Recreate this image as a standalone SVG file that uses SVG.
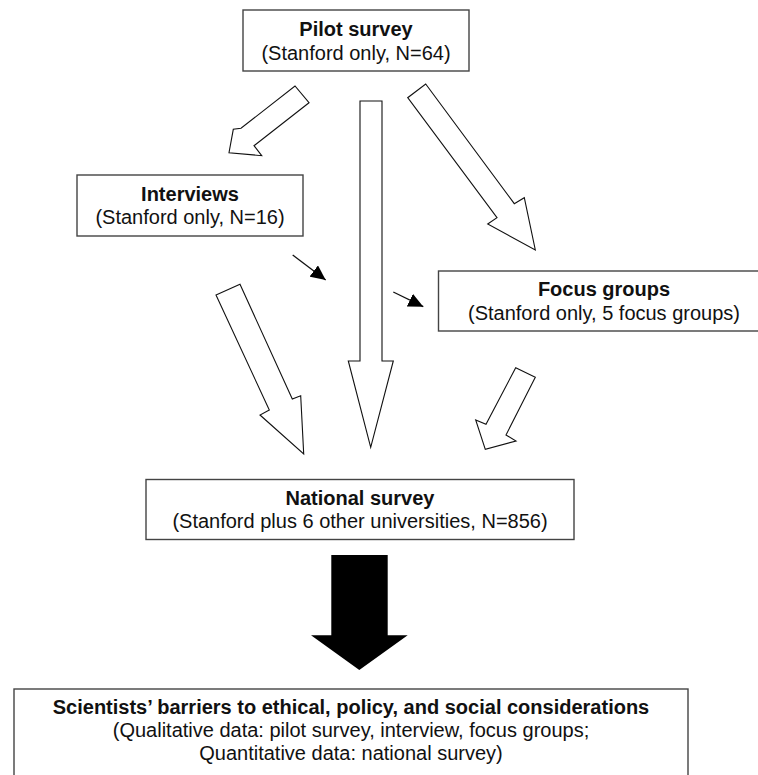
<svg xmlns="http://www.w3.org/2000/svg" width="758" height="775" viewBox="0 0 758 775">
<style>
.box{fill:#fff;stroke:#444;stroke-width:1.4}
.t{font-family:"Liberation Sans",Arial,sans-serif;font-size:20px;fill:#111;text-anchor:middle}
.b{font-weight:bold}
.big{fill:#fff;stroke:#111;stroke-width:1.1;stroke-linejoin:miter}
.thin{stroke:#111;stroke-width:1.3;fill:none}
</style>
<defs>
<marker id="ah" markerUnits="userSpaceOnUse" markerWidth="16" markerHeight="14" refX="15" refY="7" orient="auto">
<path d="M0,0 L15,7 L0,14 Z" fill="#000"/>
</marker>
</defs>
<rect width="758" height="775" fill="#fff"/>
<g id="connectors">
<polygon class="big" points="309,102.7 254,145.7 261.7,155.7 229,152.7 233.3,129.3 241,128.3 295,86"/>
<polygon class="big" points="360,101 382,101 382,361 393.3,361 370.7,447.3 348.3,361 360,361"/>
<polygon class="big" points="425.7,84 514.3,203.7 524.3,197.7 535.3,250 487.7,224 497,217.7 407.7,97.7"/>
<polygon class="big" points="240,284.3 292.3,399 300.7,395.7 303.7,454 260,415 269.3,410 216,295"/>
<polygon class="big" points="535.3,377.3 506,435 516,441 485.3,449.3 475.7,420 486,424.3 515.7,367.7"/>
<line class="thin" x1="292.7" y1="255" x2="325.7" y2="280" marker-end="url(#ah)"/>
<line class="thin" x1="393.3" y1="292" x2="423.3" y2="306.7" marker-end="url(#ah)"/>
<polygon fill="#000" points="331.3,555 387.7,555 387.7,635.3 407.7,635.3 359.3,670 311,635.3 331.3,635.3"/>
</g>
<g id="pilot">
<rect class="box" x="243" y="10" width="226" height="61"/>
<text class="t b" x="356" y="36">Pilot survey</text>
<text class="t" x="356" y="60">(Stanford only, N=64)</text>
</g>
<g id="interviews">
<rect class="box" x="77" y="175" width="226" height="61"/>
<text class="t b" x="190" y="201">Interviews</text>
<text class="t" x="190" y="224">(Stanford only, N=16)</text>
</g>
<g id="focus">
<rect class="box" x="438.5" y="271" width="340" height="60"/>
<text class="t b" x="604" y="296">Focus groups</text>
<text class="t" x="604" y="320">(Stanford only, 5 focus groups)</text>
</g>
<g id="national">
<rect class="box" x="146" y="479.5" width="428" height="60"/>
<text class="t b" x="360" y="504.5">National survey</text>
<text class="t" x="360" y="528">(Stanford plus 6 other universities, N=856)</text>
</g>
<g id="result">
<rect class="box" x="14" y="689" width="674" height="110"/>
<text class="t b" x="351" y="713.5">Scientists’ barriers to ethical, policy, and social considerations</text>
<text class="t" x="351" y="737">(Qualitative data: pilot survey, interview, focus groups;</text>
<text class="t" x="351" y="759.5">Quantitative data: national survey)</text>
</g>
</svg>
